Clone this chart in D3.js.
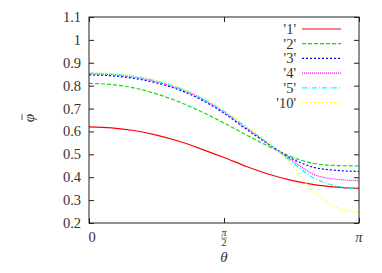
<!DOCTYPE html>
<html>
<head>
<meta charset="utf-8">
<script src="https://cdn.jsdelivr.net/npm/d3@7"></script>
<style>
  body { margin: 0; background: #fff; }
</style>
</head>
<body>
<div id="chart"></div>
<script>
// Set the dimensions of the chart
const width = 382;
const height = 273;
const margin = { top: 17, right: 23, bottom: 50, left: 89 };

// Define the data (theta in steps of pi/12)
const thetaSteps = d3.range(13).map(k => k * Math.PI / 12);
const labels = ["'1'", "'2'", "'3'", "'4'", "'5'", "'10'"];
const phi1  = [0.620, 0.616, 0.604, 0.584, 0.557, 0.523, 0.486, 0.447, 0.413, 0.386, 0.368, 0.357, 0.351];
const phi2  = [0.810, 0.805, 0.790, 0.764, 0.729, 0.686, 0.637, 0.584, 0.534, 0.489, 0.460, 0.451, 0.449];
const phi3  = [0.847, 0.843, 0.832, 0.812, 0.782, 0.738, 0.680, 0.609, 0.543, 0.482, 0.443, 0.430, 0.425];
const phi4  = [0.852, 0.848, 0.837, 0.817, 0.787, 0.743, 0.684, 0.613, 0.544, 0.475, 0.412, 0.391, 0.385];
const phi5  = [0.855, 0.851, 0.840, 0.820, 0.790, 0.746, 0.688, 0.617, 0.546, 0.468, 0.396, 0.362, 0.348];
const phi10 = [0.858, 0.854, 0.843, 0.824, 0.794, 0.750, 0.693, 0.622, 0.550, 0.455, 0.335, 0.268, 0.245];
const yTicks = [0.2, 0.3, 0.4, 0.5, 0.6, 0.7, 0.8, 0.9, 1, 1.1];
const xTicks = [0, Math.PI / 2, Math.PI];

const series = [
  { name: labels[0], values: phi1,  color: "#ff0000", dash: null },
  { name: labels[1], values: phi2,  color: "#11dd11", dash: "4,2" },
  { name: labels[2], values: phi3,  color: "#0000ff", dash: "2,2" },
  { name: labels[3], values: phi4,  color: "#ff00ff", dash: "1,1" },
  { name: labels[4], values: phi5,  color: "#00ffff", dash: "5,2,1,2" },
  { name: labels[5], values: phi10, color: "#ffff00", dash: "1.5,2.5" }
];

const font = "Liberation Serif";

const svg = d3.select("#chart")
  .append("svg")
  .attr("width", width)
  .attr("height", height)
  .style("font-family", font)
  .style("fill", "#333");

// Define the scales
const xScale = d3.scaleLinear()
  .domain([0, Math.PI])
  .range([margin.left, width - margin.right]);

const yScale = d3.scaleLinear()
  .domain([0.2, 1.1])
  .range([height - margin.bottom, margin.top]);

const x0 = xScale.range()[0], x1 = xScale.range()[1];
const y0 = yScale.range()[0], y1 = yScale.range()[1];
const tick = 5;

// Ticks on all four sides, pointing inward
svg.append("g")
  .attr("transform", `translate(0,${y0})`)
  .call(d3.axisBottom(xScale).tickValues(xTicks).tickSize(-tick).tickFormat(""))
  .call(g => g.select(".domain").remove());
svg.append("g")
  .attr("transform", `translate(0,${y1})`)
  .call(d3.axisTop(xScale).tickValues(xTicks).tickSize(-tick).tickFormat(""))
  .call(g => g.select(".domain").remove());
svg.append("g")
  .attr("transform", `translate(${x0},0)`)
  .call(d3.axisLeft(yScale).tickValues(yTicks).tickSize(-tick).tickFormat(""))
  .call(g => g.select(".domain").remove());
svg.append("g")
  .attr("transform", `translate(${x1},0)`)
  .call(d3.axisRight(yScale).tickValues(yTicks).tickSize(-tick).tickFormat(""))
  .call(g => g.select(".domain").remove());
svg.selectAll(".tick line").attr("stroke", "#222").attr("stroke-width", 1);

// Y tick labels
svg.selectAll(".ylab")
  .data(yTicks)
  .enter()
  .append("text")
  .attr("x", x0 - 8)
  .attr("y", d => yScale(d) + 5)
  .attr("text-anchor", "end")
  .style("font-family", font)
  .style("font-size", "14.5px")
  .text(d => d);

// X tick labels
svg.append("text").attr("x", xScale(0) + 3).attr("y", y0 + 19)
  .attr("text-anchor", "middle").style("font-size", "14.5px").text("0");
svg.append("text").attr("x", xScale(Math.PI)).attr("y", y0 + 19)
  .attr("text-anchor", "middle").style("font-size", "14.5px").style("font-style", "italic").text("π");
const half = svg.append("g").attr("transform", `translate(${xScale(Math.PI / 2)},${y0})`);
half.append("text").attr("y", 13).attr("text-anchor", "middle")
  .style("font-size", "10px").style("font-style", "italic").text("π");
half.append("line").attr("x1", -3).attr("x2", 3).attr("y1", 15).attr("y2", 15)
  .attr("stroke", "#333").attr("stroke-width", 0.6);
half.append("text").attr("y", 23).attr("text-anchor", "middle")
  .style("font-size", "10px").text("2");

// Axis titles
svg.append("text")
  .attr("x", xScale(Math.PI / 2))
  .attr("y", 262)
  .attr("text-anchor", "middle")
  .style("font-size", "15px")
  .style("font-style", "italic")
  .text("θ");
const ylab = svg.append("g").attr("transform", "translate(34,118) rotate(-90)");
ylab.append("text")
  .attr("text-anchor", "middle")
  .attr("y", 0)
  .style("font-size", "15px")
  .style("font-style", "italic")
  .text("φ");
ylab.append("line")
  .attr("x1", -2).attr("x2", 4).attr("y1", -12).attr("y2", -12)
  .attr("stroke", "#333").attr("stroke-width", 0.8);

// Curves
const line = d3.line()
  .x((d, i) => xScale(thetaSteps[i]))
  .y(d => yScale(d))
  .curve(d3.curveMonotoneX);

svg.selectAll(".curve")
  .data(series)
  .enter()
  .append("path")
  .attr("class", "curve")
  .attr("d", d => line(d.values))
  .attr("fill", "none")
  .attr("stroke", d => d.color)
  .attr("stroke-width", 1.2)
  .attr("stroke-dasharray", d => d.dash);

// Legend
const legend = svg.selectAll(".legend")
  .data(series)
  .enter()
  .append("g")
  .attr("transform", (d, i) => `translate(0,${29 + i * 14.7})`);
legend.append("text")
  .attr("x", 296)
  .attr("y", 5)
  .attr("text-anchor", "end")
  .style("font-size", "14.5px")
  .text(d => d.name);
legend.append("line")
  .attr("x1", 302).attr("x2", 341)
  .attr("stroke", d => d.color)
  .attr("stroke-width", 1.2)
  .attr("stroke-dasharray", d => d.dash);

// Frame
svg.append("rect")
  .attr("x", x0).attr("y", y1)
  .attr("width", x1 - x0).attr("height", y0 - y1)
  .attr("fill", "none")
  .attr("stroke", "#222")
  .attr("stroke-width", 1);
</script>
</body>
</html>
